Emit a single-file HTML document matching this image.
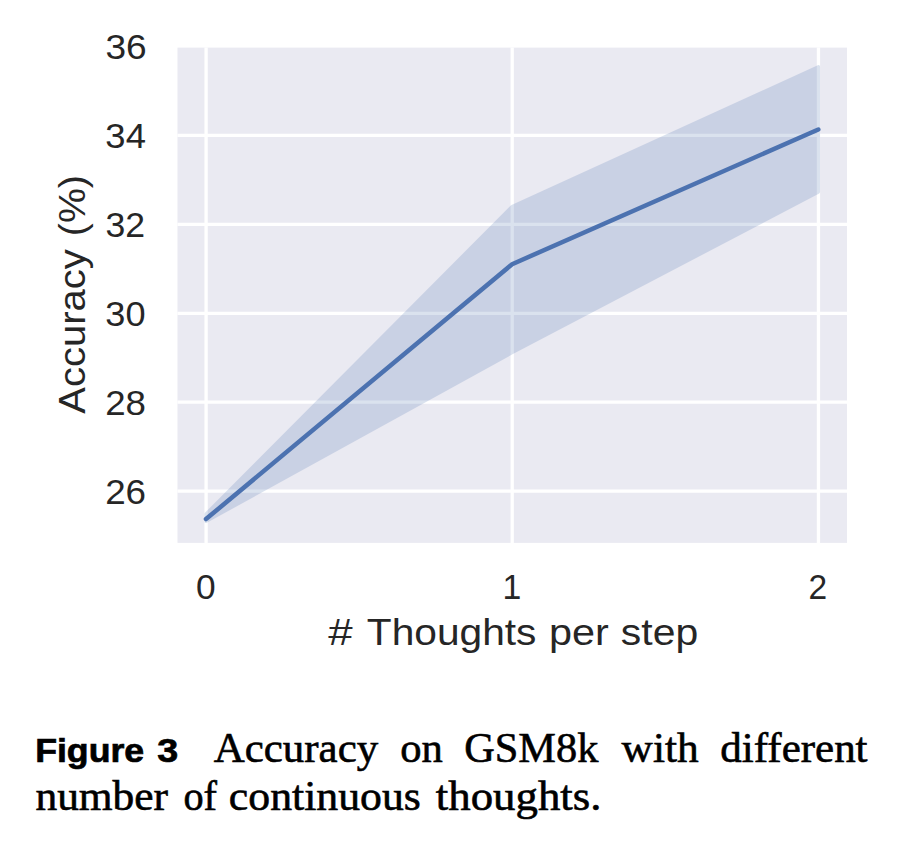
<!DOCTYPE html>
<html><head><meta charset="utf-8"><style>
html,body{margin:0;padding:0;background:#fff;width:912px;height:854px;overflow:hidden}
svg{display:block}
</style></head><body>
<svg width="912" height="854" viewBox="0 0 912 854">
<rect x="177.5" y="47.6" width="669.5" height="495.3" fill="#EAEAF2"/>
<g stroke="#fff" stroke-width="3.3">
<line x1="206.1" y1="47.6" x2="206.1" y2="542.9"/>
<line x1="512.2" y1="47.6" x2="512.2" y2="542.9"/>
<line x1="818.45" y1="47.6" x2="818.45" y2="542.9"/>
<line x1="177.5" y1="491.1" x2="847" y2="491.1"/>
<line x1="177.5" y1="402.2" x2="847" y2="402.2"/>
<line x1="177.5" y1="313.3" x2="847" y2="313.3"/>
<line x1="177.5" y1="224.3" x2="847" y2="224.3"/>
<line x1="177.5" y1="135.35" x2="847" y2="135.35"/>
</g>
<g opacity="0.2"><polygon points="206.1,513.9 512.2,206.35 818.45,66.7 818.45,192.1 512.2,352.6 206.1,521.4" fill="#4C72B0" stroke="#4C72B0" stroke-width="3.2" stroke-linejoin="round"/></g>
<polyline points="206,519.1 512.1,264.2 818.3,129.5" fill="none" stroke="#4C72B0" stroke-width="4.5" stroke-linecap="round" stroke-linejoin="round"/>

<text id="y36" x="105.45" y="58.7" font-family='"Liberation Sans",sans-serif' font-size="35.8" font-weight="normal" fill="#262626" textLength="41.26" lengthAdjust="spacingAndGlyphs">36</text>
<text id="y34" x="105.38" y="147.9" font-family='"Liberation Sans",sans-serif' font-size="35.8" font-weight="normal" fill="#262626" textLength="40.52" lengthAdjust="spacingAndGlyphs">34</text>
<text id="y32" x="105.43" y="236.8" font-family='"Liberation Sans",sans-serif' font-size="35.8" font-weight="normal" fill="#262626" textLength="39.64" lengthAdjust="spacingAndGlyphs">32</text>
<text id="y30" x="105.38" y="325.8" font-family='"Liberation Sans",sans-serif' font-size="35.8" font-weight="normal" fill="#262626" textLength="40.21" lengthAdjust="spacingAndGlyphs">30</text>
<text id="y28" x="105.21" y="414.6" font-family='"Liberation Sans",sans-serif' font-size="35.8" font-weight="normal" fill="#262626" textLength="40.85" lengthAdjust="spacingAndGlyphs">28</text>
<text id="y26" x="105.15" y="503.8" font-family='"Liberation Sans",sans-serif' font-size="35.8" font-weight="normal" fill="#262626" textLength="40.94" lengthAdjust="spacingAndGlyphs">26</text>
<text id="x0" x="196.08" y="598.7" font-family='"Liberation Sans",sans-serif' font-size="35.8" font-weight="normal" fill="#262626" textLength="19.65" lengthAdjust="spacingAndGlyphs">0</text>
<text id="x1" x="502.62" y="598.7" font-family='"Liberation Sans",sans-serif' font-size="35.8" font-weight="normal" fill="#262626" textLength="18.81" lengthAdjust="spacingAndGlyphs">1</text>
<text id="x2" x="808.54" y="598.7" font-family='"Liberation Sans",sans-serif' font-size="35.8" font-weight="normal" fill="#262626" textLength="18.65" lengthAdjust="spacingAndGlyphs">2</text>
<text id="xl1" x="328.32" y="645" font-family='"Liberation Sans",sans-serif' font-size="37.5" font-weight="normal" fill="#262626" textLength="24.39" lengthAdjust="spacingAndGlyphs">&#35;</text>
<text id="xl2" x="366.80" y="645" font-family='"Liberation Sans",sans-serif' font-size="37.5" font-weight="normal" fill="#262626" textLength="169.63" lengthAdjust="spacingAndGlyphs">Thoughts</text>
<text id="xl3" x="548.93" y="645" font-family='"Liberation Sans",sans-serif' font-size="37.5" font-weight="normal" fill="#262626" textLength="59.83" lengthAdjust="spacingAndGlyphs">per</text>
<text id="xl4" x="620.84" y="645" font-family='"Liberation Sans",sans-serif' font-size="37.5" font-weight="normal" fill="#262626" textLength="77.32" lengthAdjust="spacingAndGlyphs">step</text>
<text id="fig" x="35.16" y="761.7" font-family='"Liberation Sans",sans-serif' font-size="33.5" font-weight="bold" fill="#000" stroke="#000" stroke-width="0.7" textLength="109.04" lengthAdjust="spacingAndGlyphs">Figure</text>
<text id="fig3" x="157.22" y="761.7" font-family='"Liberation Sans",sans-serif' font-size="33.5" font-weight="bold" fill="#000" stroke="#000" stroke-width="0.7" textLength="20.96" lengthAdjust="spacingAndGlyphs">3</text>
<text id="w1" x="213.80" y="761.8" font-family='"Liberation Serif",serif' font-size="42" font-weight="normal" fill="#000" stroke="#000" stroke-width="0.6" textLength="164.33" lengthAdjust="spacingAndGlyphs">Accuracy</text>
<text id="w2" x="400.18" y="761.8" font-family='"Liberation Serif",serif' font-size="42" font-weight="normal" fill="#000" stroke="#000" stroke-width="0.6" textLength="42.54" lengthAdjust="spacingAndGlyphs">on</text>
<text id="w3" x="464.19" y="761.8" font-family='"Liberation Serif",serif' font-size="42" font-weight="normal" fill="#000" stroke="#000" stroke-width="0.6" textLength="134.15" lengthAdjust="spacingAndGlyphs">GSM8k</text>
<text id="w4" x="621.62" y="761.8" font-family='"Liberation Serif",serif' font-size="42" font-weight="normal" fill="#000" stroke="#000" stroke-width="0.6" textLength="77.01" lengthAdjust="spacingAndGlyphs">with</text>
<text id="w5" x="720.37" y="761.8" font-family='"Liberation Serif",serif' font-size="42" font-weight="normal" fill="#000" stroke="#000" stroke-width="0.6" textLength="147.21" lengthAdjust="spacingAndGlyphs">different</text>
<text id="v1" x="35.43" y="810.4" font-family='"Liberation Serif",serif' font-size="42" font-weight="normal" fill="#000" stroke="#000" stroke-width="0.6" textLength="132.63" lengthAdjust="spacingAndGlyphs">number</text>
<text id="v2" x="183.39" y="810.4" font-family='"Liberation Serif",serif' font-size="42" font-weight="normal" fill="#000" stroke="#000" stroke-width="0.6" textLength="33.56" lengthAdjust="spacingAndGlyphs">of</text>
<text id="v3" x="228.88" y="810.4" font-family='"Liberation Serif",serif' font-size="42" font-weight="normal" fill="#000" stroke="#000" stroke-width="0.6" textLength="191.90" lengthAdjust="spacingAndGlyphs">continuous</text>
<text id="v4" x="435.89" y="810.4" font-family='"Liberation Serif",serif' font-size="42" font-weight="normal" fill="#000" stroke="#000" stroke-width="0.6" textLength="165.48" lengthAdjust="spacingAndGlyphs">thoughts.</text>
<text id="yl1" transform="translate(84.8,413.77) rotate(-90)" x="0" y="0" font-family='"Liberation Sans",sans-serif' font-size="37.5" fill="#262626" textLength="164.48" lengthAdjust="spacingAndGlyphs">Accuracy</text>
<text id="yl2" transform="translate(84.8,236.17) rotate(-90)" x="0" y="0" font-family='"Liberation Sans",sans-serif' font-size="37.5" fill="#262626" textLength="61.12" lengthAdjust="spacingAndGlyphs">(%)</text>
</svg>
</body></html>
